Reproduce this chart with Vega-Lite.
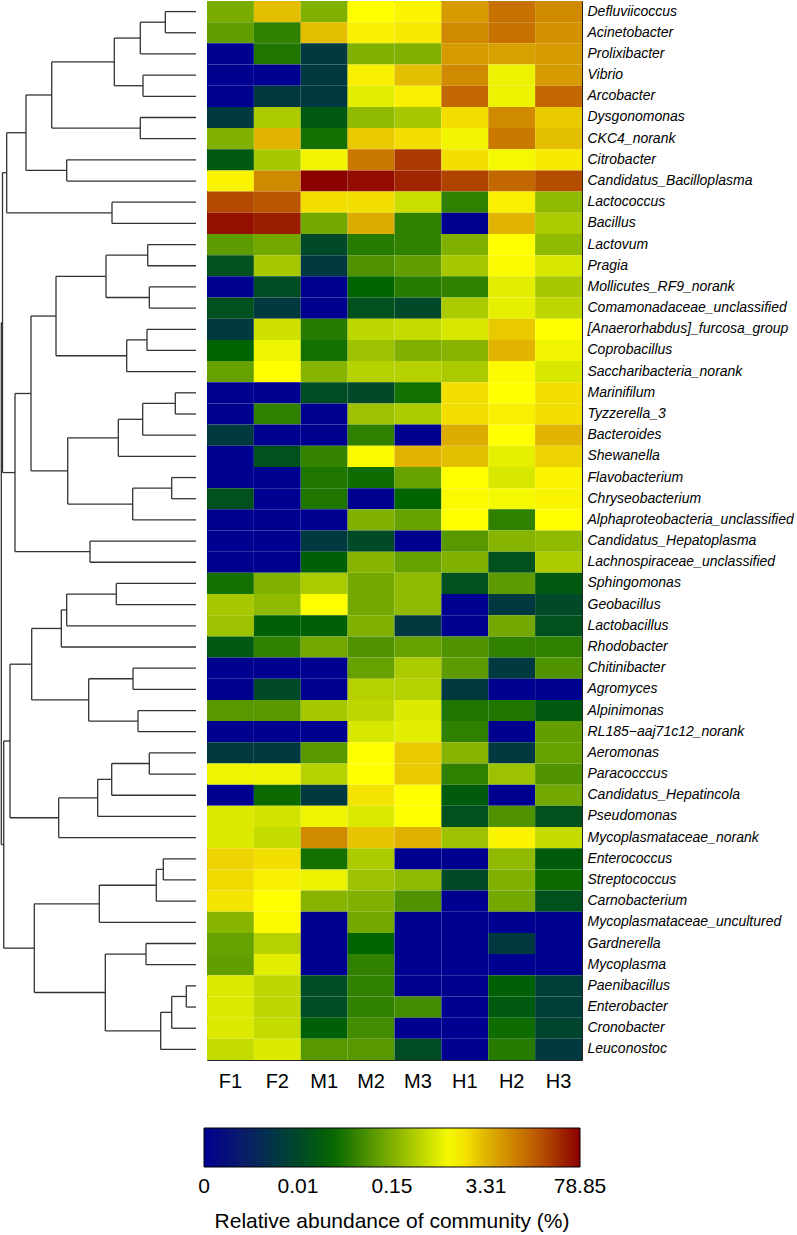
{
"$schema": "https://vega.github.io/schema/vega-lite/v6.json",
"padding": 0,
"background": "white",
"spacing": 9,
"config": {"view": {"stroke": null}, "font": "Liberation Sans"},
"hconcat": [
{
"width": 195, "height": 1059,
"data": {"values": [
{"node":"A","h":30.7,"h1":0,"y1":1,"h2":0,"y2":2},
{"node":"B","h":55.7,"h1":30.7,"y1":1.5,"h2":0,"y2":3},
{"node":"C","h":53,"h1":0,"y1":4,"h2":0,"y2":5},
{"node":"D","h":81.7,"h1":55.7,"y1":2.25,"h2":53,"y2":4.5},
{"node":"E","h":55.7,"h1":0,"y1":6,"h2":0,"y2":7},
{"node":"F","h":144.3,"h1":81.7,"y1":3.375,"h2":55.7,"y2":6.5},
{"node":"G","h":129.3,"h1":0,"y1":8,"h2":0,"y2":9},
{"node":"H","h":170,"h1":144.3,"y1":4.9375,"h2":129.3,"y2":8.5},
{"node":"I","h":84,"h1":0,"y1":10,"h2":0,"y2":11},
{"node":"J","h":189.3,"h1":170,"y1":6.71875,"h2":84,"y2":10.5},
{"node":"K","h":48.3,"h1":0,"y1":12,"h2":0,"y2":13},
{"node":"L","h":46.7,"h1":0,"y1":14,"h2":0,"y2":15},
{"node":"M","h":90,"h1":48.3,"y1":12.5,"h2":46.7,"y2":14.5},
{"node":"N","h":49,"h1":0,"y1":16,"h2":0,"y2":17},
{"node":"O","h":69.3,"h1":49,"y1":16.5,"h2":0,"y2":18},
{"node":"P","h":140,"h1":90,"y1":13.5,"h2":69.3,"y2":17.25},
{"node":"Q","h":20.7,"h1":0,"y1":19,"h2":0,"y2":20},
{"node":"R","h":53.3,"h1":20.7,"y1":19.5,"h2":0,"y2":21},
{"node":"S","h":77.7,"h1":53.3,"y1":20.25,"h2":0,"y2":22},
{"node":"T","h":24.3,"h1":0,"y1":23,"h2":0,"y2":24},
{"node":"U","h":63.3,"h1":24.3,"y1":23.5,"h2":0,"y2":25},
{"node":"V","h":128.3,"h1":77.7,"y1":21.125,"h2":63.3,"y2":24.25},
{"node":"W","h":165,"h1":140,"y1":15.375,"h2":128.3,"y2":22.6875},
{"node":"Y","h":106,"h1":0,"y1":26,"h2":0,"y2":27},
{"node":"X","h":181,"h1":165,"y1":19.03125,"h2":106,"y2":26.5},
{"node":"Z","h":193.5,"h1":189.3,"y1":8.609375,"h2":181,"y2":22.765625},
{"node":"AA","h":79.7,"h1":0,"y1":28,"h2":0,"y2":29},
{"node":"AB","h":129.3,"h1":79.7,"y1":28.5,"h2":0,"y2":30},
{"node":"AC","h":134.7,"h1":129.3,"y1":29.25,"h2":0,"y2":31},
{"node":"AD","h":63,"h1":0,"y1":32,"h2":0,"y2":33},
{"node":"AE","h":58,"h1":0,"y1":34,"h2":0,"y2":35},
{"node":"AF","h":107.3,"h1":63,"y1":32.5,"h2":58,"y2":34.5},
{"node":"AG","h":164.3,"h1":134.7,"y1":30.125,"h2":107.3,"y2":33.5},
{"node":"AH","h":46.7,"h1":0,"y1":36,"h2":0,"y2":37},
{"node":"AI","h":84.3,"h1":46.7,"y1":36.5,"h2":0,"y2":38},
{"node":"AJ","h":98.3,"h1":84.3,"y1":37.25,"h2":0,"y2":39},
{"node":"AK","h":137.3,"h1":98.3,"y1":38.125,"h2":0,"y2":40},
{"node":"AL","h":186,"h1":164.3,"y1":31.8125,"h2":137.3,"y2":39.0625},
{"node":"AM","h":32.7,"h1":0,"y1":41,"h2":0,"y2":42},
{"node":"AN","h":39.7,"h1":32.7,"y1":41.5,"h2":0,"y2":43},
{"node":"AO","h":96.7,"h1":39.7,"y1":42.25,"h2":0,"y2":44},
{"node":"AP","h":50,"h1":0,"y1":45,"h2":0,"y2":46},
{"node":"AQ","h":9.7,"h1":0,"y1":47,"h2":0,"y2":48},
{"node":"AR","h":24.3,"h1":9.7,"y1":47.5,"h2":0,"y2":49},
{"node":"AS","h":35.3,"h1":24.3,"y1":48.25,"h2":0,"y2":50},
{"node":"AT","h":90.7,"h1":50,"y1":45.5,"h2":35.3,"y2":49.125},
{"node":"AU","h":161.7,"h1":96.7,"y1":43.125,"h2":90.7,"y2":47.3125},
{"node":"BB","h":192.3,"h1":186,"y1":35.4375,"h2":161.7,"y2":45.21875},
{"node":"ROOT","h":194.7,"h1":193.5,"y1":15.6875,"h2":192.3,"y2":40.328125}
]},
"layer": [
{"mark": {"type": "rule", "color": "#333333", "strokeWidth": 1.3},
 "encoding": {
  "x": {"field": "h", "type": "quantitative", "scale": {"domain": [0, 195], "reverse": true, "nice": false, "zero": false}, "axis": null},
  "y": {"field": "y1", "type": "quantitative", "scale": {"domain": [0.5, 50.5], "reverse": true, "nice": false, "zero": false}, "axis": null},
  "y2": {"field": "y2"}}},
{"mark": {"type": "rule", "color": "#333333", "strokeWidth": 1.3},
 "encoding": {
  "x": {"field": "h1", "type": "quantitative", "axis": null},
  "x2": {"field": "h"},
  "y": {"field": "y1", "type": "quantitative", "axis": null}}},
{"mark": {"type": "rule", "color": "#333333", "strokeWidth": 1.3},
 "encoding": {
  "x": {"field": "h2", "type": "quantitative", "axis": null},
  "x2": {"field": "h"},
  "y": {"field": "y2", "type": "quantitative", "axis": null}}}
]
},
{
"width": 375, "height": 1059,
"view": {"stroke": "#222222", "strokeWidth": 1},
"data": {"values": [
{"taxon":"Defluviicoccus","sample":"F1","value":1.97},{"taxon":"Defluviicoccus","sample":"F2","value":2.95},{"taxon":"Defluviicoccus","sample":"M1","value":2.0},{"taxon":"Defluviicoccus","sample":"M2","value":2.65},{"taxon":"Defluviicoccus","sample":"M3","value":2.7},{"taxon":"Defluviicoccus","sample":"H1","value":3.15},{"taxon":"Defluviicoccus","sample":"H2","value":3.4},{"taxon":"Defluviicoccus","sample":"H3","value":3.25},
{"taxon":"Acinetobacter","sample":"F1","value":1.85},{"taxon":"Acinetobacter","sample":"F2","value":1.6},{"taxon":"Acinetobacter","sample":"M1","value":2.95},{"taxon":"Acinetobacter","sample":"M2","value":2.72},{"taxon":"Acinetobacter","sample":"M3","value":2.75},{"taxon":"Acinetobacter","sample":"H1","value":3.25},{"taxon":"Acinetobacter","sample":"H2","value":3.4},{"taxon":"Acinetobacter","sample":"H3","value":3.2},
{"taxon":"Prolixibacter","sample":"F1","value":0},{"taxon":"Prolixibacter","sample":"F2","value":1.5},{"taxon":"Prolixibacter","sample":"M1","value":0.8},{"taxon":"Prolixibacter","sample":"M2","value":2.0},{"taxon":"Prolixibacter","sample":"M3","value":2.0},{"taxon":"Prolixibacter","sample":"H1","value":3.15},{"taxon":"Prolixibacter","sample":"H2","value":3.12},{"taxon":"Prolixibacter","sample":"H3","value":3.15},
{"taxon":"Vibrio","sample":"F1","value":0},{"taxon":"Vibrio","sample":"F2","value":0},{"taxon":"Vibrio","sample":"M1","value":0.8},{"taxon":"Vibrio","sample":"M2","value":2.72},{"taxon":"Vibrio","sample":"M3","value":2.95},{"taxon":"Vibrio","sample":"H1","value":3.25},{"taxon":"Vibrio","sample":"H2","value":2.55},{"taxon":"Vibrio","sample":"H3","value":3.15},
{"taxon":"Arcobacter","sample":"F1","value":0},{"taxon":"Arcobacter","sample":"F2","value":0.8},{"taxon":"Arcobacter","sample":"M1","value":0.8},{"taxon":"Arcobacter","sample":"M2","value":2.5},{"taxon":"Arcobacter","sample":"M3","value":2.72},{"taxon":"Arcobacter","sample":"H1","value":3.45},{"taxon":"Arcobacter","sample":"H2","value":2.55},{"taxon":"Arcobacter","sample":"H3","value":3.45},
{"taxon":"Dysgonomonas","sample":"F1","value":0.8},{"taxon":"Dysgonomonas","sample":"F2","value":2.22},{"taxon":"Dysgonomonas","sample":"M1","value":1.2},{"taxon":"Dysgonomonas","sample":"M2","value":2.08},{"taxon":"Dysgonomonas","sample":"M3","value":2.2},{"taxon":"Dysgonomonas","sample":"H1","value":2.8},{"taxon":"Dysgonomonas","sample":"H2","value":3.25},{"taxon":"Dysgonomonas","sample":"H3","value":2.9},
{"taxon":"CKC4_norank","sample":"F1","value":2.0},{"taxon":"CKC4_norank","sample":"F2","value":3.0},{"taxon":"CKC4_norank","sample":"M1","value":1.45},{"taxon":"CKC4_norank","sample":"M2","value":2.9},{"taxon":"CKC4_norank","sample":"M3","value":2.8},{"taxon":"CKC4_norank","sample":"H1","value":2.58},{"taxon":"CKC4_norank","sample":"H2","value":3.35},{"taxon":"CKC4_norank","sample":"H3","value":2.95},
{"taxon":"Citrobacter","sample":"F1","value":1.2},{"taxon":"Citrobacter","sample":"F2","value":2.2},{"taxon":"Citrobacter","sample":"M1","value":2.58},{"taxon":"Citrobacter","sample":"M2","value":3.35},{"taxon":"Citrobacter","sample":"M3","value":3.7},{"taxon":"Citrobacter","sample":"H1","value":2.8},{"taxon":"Citrobacter","sample":"H2","value":2.6},{"taxon":"Citrobacter","sample":"H3","value":2.75},
{"taxon":"Candidatus_Bacilloplasma","sample":"F1","value":2.7},{"taxon":"Candidatus_Bacilloplasma","sample":"F2","value":3.25},{"taxon":"Candidatus_Bacilloplasma","sample":"M1","value":4.0},{"taxon":"Candidatus_Bacilloplasma","sample":"M2","value":3.93},{"taxon":"Candidatus_Bacilloplasma","sample":"M3","value":3.8},{"taxon":"Candidatus_Bacilloplasma","sample":"H1","value":3.65},{"taxon":"Candidatus_Bacilloplasma","sample":"H2","value":3.45},{"taxon":"Candidatus_Bacilloplasma","sample":"H3","value":3.6},
{"taxon":"Lactococcus","sample":"F1","value":3.62},{"taxon":"Lactococcus","sample":"F2","value":3.55},{"taxon":"Lactococcus","sample":"M1","value":2.8},{"taxon":"Lactococcus","sample":"M2","value":2.8},{"taxon":"Lactococcus","sample":"M3","value":2.38},{"taxon":"Lactococcus","sample":"H1","value":1.6},{"taxon":"Lactococcus","sample":"H2","value":2.72},{"taxon":"Lactococcus","sample":"H3","value":2.08},
{"taxon":"Bacillus","sample":"F1","value":3.92},{"taxon":"Bacillus","sample":"F2","value":3.85},{"taxon":"Bacillus","sample":"M1","value":1.93},{"taxon":"Bacillus","sample":"M2","value":3.05},{"taxon":"Bacillus","sample":"M3","value":1.6},{"taxon":"Bacillus","sample":"H1","value":0},{"taxon":"Bacillus","sample":"H2","value":3.0},{"taxon":"Bacillus","sample":"H3","value":2.22},
{"taxon":"Lactovum","sample":"F1","value":1.82},{"taxon":"Lactovum","sample":"F2","value":1.93},{"taxon":"Lactovum","sample":"M1","value":1.0},{"taxon":"Lactovum","sample":"M2","value":1.55},{"taxon":"Lactovum","sample":"M3","value":1.6},{"taxon":"Lactovum","sample":"H1","value":2.0},{"taxon":"Lactovum","sample":"H2","value":2.65},{"taxon":"Lactovum","sample":"H3","value":2.08},
{"taxon":"Pragia","sample":"F1","value":1.1},{"taxon":"Pragia","sample":"F2","value":2.2},{"taxon":"Pragia","sample":"M1","value":0.8},{"taxon":"Pragia","sample":"M2","value":1.75},{"taxon":"Pragia","sample":"M3","value":1.85},{"taxon":"Pragia","sample":"H1","value":2.2},{"taxon":"Pragia","sample":"H2","value":2.68},{"taxon":"Pragia","sample":"H3","value":2.45},
{"taxon":"Mollicutes_RF9_norank","sample":"F1","value":0},{"taxon":"Mollicutes_RF9_norank","sample":"F2","value":1.05},{"taxon":"Mollicutes_RF9_norank","sample":"M1","value":0},{"taxon":"Mollicutes_RF9_norank","sample":"M2","value":1.35},{"taxon":"Mollicutes_RF9_norank","sample":"M3","value":1.55},{"taxon":"Mollicutes_RF9_norank","sample":"H1","value":1.6},{"taxon":"Mollicutes_RF9_norank","sample":"H2","value":2.5},{"taxon":"Mollicutes_RF9_norank","sample":"H3","value":2.2},
{"taxon":"Comamonadaceae_unclassified","sample":"F1","value":1.1},{"taxon":"Comamonadaceae_unclassified","sample":"F2","value":0.8},{"taxon":"Comamonadaceae_unclassified","sample":"M1","value":0},{"taxon":"Comamonadaceae_unclassified","sample":"M2","value":1.1},{"taxon":"Comamonadaceae_unclassified","sample":"M3","value":1.0},{"taxon":"Comamonadaceae_unclassified","sample":"H1","value":2.22},{"taxon":"Comamonadaceae_unclassified","sample":"H2","value":2.52},{"taxon":"Comamonadaceae_unclassified","sample":"H3","value":2.32},
{"taxon":"[Anaerorhabdus]_furcosa_group","sample":"F1","value":0.8},{"taxon":"[Anaerorhabdus]_furcosa_group","sample":"F2","value":2.4},{"taxon":"[Anaerorhabdus]_furcosa_group","sample":"M1","value":1.55},{"taxon":"[Anaerorhabdus]_furcosa_group","sample":"M2","value":2.32},{"taxon":"[Anaerorhabdus]_furcosa_group","sample":"M3","value":2.35},{"taxon":"[Anaerorhabdus]_furcosa_group","sample":"H1","value":2.45},{"taxon":"[Anaerorhabdus]_furcosa_group","sample":"H2","value":2.9},{"taxon":"[Anaerorhabdus]_furcosa_group","sample":"H3","value":2.65},
{"taxon":"Coprobacillus","sample":"F1","value":1.35},{"taxon":"Coprobacillus","sample":"F2","value":2.57},{"taxon":"Coprobacillus","sample":"M1","value":1.45},{"taxon":"Coprobacillus","sample":"M2","value":2.15},{"taxon":"Coprobacillus","sample":"M3","value":2.0},{"taxon":"Coprobacillus","sample":"H1","value":2.03},{"taxon":"Coprobacillus","sample":"H2","value":3.0},{"taxon":"Coprobacillus","sample":"H3","value":2.58},
{"taxon":"Saccharibacteria_norank","sample":"F1","value":1.87},{"taxon":"Saccharibacteria_norank","sample":"F2","value":2.65},{"taxon":"Saccharibacteria_norank","sample":"M1","value":2.03},{"taxon":"Saccharibacteria_norank","sample":"M2","value":2.27},{"taxon":"Saccharibacteria_norank","sample":"M3","value":2.27},{"taxon":"Saccharibacteria_norank","sample":"H1","value":2.22},{"taxon":"Saccharibacteria_norank","sample":"H2","value":2.68},{"taxon":"Saccharibacteria_norank","sample":"H3","value":2.45},
{"taxon":"Marinifilum","sample":"F1","value":0},{"taxon":"Marinifilum","sample":"F2","value":0},{"taxon":"Marinifilum","sample":"M1","value":1.05},{"taxon":"Marinifilum","sample":"M2","value":1.0},{"taxon":"Marinifilum","sample":"M3","value":1.45},{"taxon":"Marinifilum","sample":"H1","value":2.8},{"taxon":"Marinifilum","sample":"H2","value":2.65},{"taxon":"Marinifilum","sample":"H3","value":2.8},
{"taxon":"Tyzzerella_3","sample":"F1","value":0},{"taxon":"Tyzzerella_3","sample":"F2","value":1.6},{"taxon":"Tyzzerella_3","sample":"M1","value":0},{"taxon":"Tyzzerella_3","sample":"M2","value":2.15},{"taxon":"Tyzzerella_3","sample":"M3","value":2.22},{"taxon":"Tyzzerella_3","sample":"H1","value":2.8},{"taxon":"Tyzzerella_3","sample":"H2","value":2.72},{"taxon":"Tyzzerella_3","sample":"H3","value":2.8},
{"taxon":"Bacteroides","sample":"F1","value":0.8},{"taxon":"Bacteroides","sample":"F2","value":0},{"taxon":"Bacteroides","sample":"M1","value":0},{"taxon":"Bacteroides","sample":"M2","value":1.6},{"taxon":"Bacteroides","sample":"M3","value":0},{"taxon":"Bacteroides","sample":"H1","value":3.05},{"taxon":"Bacteroides","sample":"H2","value":2.65},{"taxon":"Bacteroides","sample":"H3","value":3.0},
{"taxon":"Shewanella","sample":"F1","value":0},{"taxon":"Shewanella","sample":"F2","value":1.1},{"taxon":"Shewanella","sample":"M1","value":1.62},{"taxon":"Shewanella","sample":"M2","value":2.68},{"taxon":"Shewanella","sample":"M3","value":3.0},{"taxon":"Shewanella","sample":"H1","value":2.95},{"taxon":"Shewanella","sample":"H2","value":2.52},{"taxon":"Shewanella","sample":"H3","value":2.85},
{"taxon":"Flavobacterium","sample":"F1","value":0},{"taxon":"Flavobacterium","sample":"F2","value":0},{"taxon":"Flavobacterium","sample":"M1","value":1.5},{"taxon":"Flavobacterium","sample":"M2","value":1.42},{"taxon":"Flavobacterium","sample":"M3","value":1.87},{"taxon":"Flavobacterium","sample":"H1","value":2.65},{"taxon":"Flavobacterium","sample":"H2","value":2.45},{"taxon":"Flavobacterium","sample":"H3","value":2.7},
{"taxon":"Chryseobacterium","sample":"F1","value":1.1},{"taxon":"Chryseobacterium","sample":"F2","value":0},{"taxon":"Chryseobacterium","sample":"M1","value":1.5},{"taxon":"Chryseobacterium","sample":"M2","value":0},{"taxon":"Chryseobacterium","sample":"M3","value":1.35},{"taxon":"Chryseobacterium","sample":"H1","value":2.68},{"taxon":"Chryseobacterium","sample":"H2","value":2.6},{"taxon":"Chryseobacterium","sample":"H3","value":2.7},
{"taxon":"Alphaproteobacteria_unclassified","sample":"F1","value":0},{"taxon":"Alphaproteobacteria_unclassified","sample":"F2","value":0},{"taxon":"Alphaproteobacteria_unclassified","sample":"M1","value":0},{"taxon":"Alphaproteobacteria_unclassified","sample":"M2","value":2.0},{"taxon":"Alphaproteobacteria_unclassified","sample":"M3","value":1.87},{"taxon":"Alphaproteobacteria_unclassified","sample":"H1","value":2.65},{"taxon":"Alphaproteobacteria_unclassified","sample":"H2","value":1.6},{"taxon":"Alphaproteobacteria_unclassified","sample":"H3","value":2.65},
{"taxon":"Candidatus_Hepatoplasma","sample":"F1","value":0},{"taxon":"Candidatus_Hepatoplasma","sample":"F2","value":0},{"taxon":"Candidatus_Hepatoplasma","sample":"M1","value":0.8},{"taxon":"Candidatus_Hepatoplasma","sample":"M2","value":1.0},{"taxon":"Candidatus_Hepatoplasma","sample":"M3","value":0},{"taxon":"Candidatus_Hepatoplasma","sample":"H1","value":1.8},{"taxon":"Candidatus_Hepatoplasma","sample":"H2","value":2.03},{"taxon":"Candidatus_Hepatoplasma","sample":"H3","value":2.08},
{"taxon":"Lachnospiraceae_unclassified","sample":"F1","value":0},{"taxon":"Lachnospiraceae_unclassified","sample":"F2","value":0},{"taxon":"Lachnospiraceae_unclassified","sample":"M1","value":1.3},{"taxon":"Lachnospiraceae_unclassified","sample":"M2","value":2.03},{"taxon":"Lachnospiraceae_unclassified","sample":"M3","value":1.87},{"taxon":"Lachnospiraceae_unclassified","sample":"H1","value":2.0},{"taxon":"Lachnospiraceae_unclassified","sample":"H2","value":1.1},{"taxon":"Lachnospiraceae_unclassified","sample":"H3","value":2.22},
{"taxon":"Sphingomonas","sample":"F1","value":1.45},{"taxon":"Sphingomonas","sample":"F2","value":2.0},{"taxon":"Sphingomonas","sample":"M1","value":2.22},{"taxon":"Sphingomonas","sample":"M2","value":1.93},{"taxon":"Sphingomonas","sample":"M3","value":2.08},{"taxon":"Sphingomonas","sample":"H1","value":1.1},{"taxon":"Sphingomonas","sample":"H2","value":1.82},{"taxon":"Sphingomonas","sample":"H3","value":1.2},
{"taxon":"Geobacillus","sample":"F1","value":2.2},{"taxon":"Geobacillus","sample":"F2","value":2.08},{"taxon":"Geobacillus","sample":"M1","value":2.65},{"taxon":"Geobacillus","sample":"M2","value":1.93},{"taxon":"Geobacillus","sample":"M3","value":2.08},{"taxon":"Geobacillus","sample":"H1","value":0},{"taxon":"Geobacillus","sample":"H2","value":0.8},{"taxon":"Geobacillus","sample":"H3","value":1.0},
{"taxon":"Lactobacillus","sample":"F1","value":2.15},{"taxon":"Lactobacillus","sample":"F2","value":1.3},{"taxon":"Lactobacillus","sample":"M1","value":1.3},{"taxon":"Lactobacillus","sample":"M2","value":2.0},{"taxon":"Lactobacillus","sample":"M3","value":0.8},{"taxon":"Lactobacillus","sample":"H1","value":0},{"taxon":"Lactobacillus","sample":"H2","value":1.93},{"taxon":"Lactobacillus","sample":"H3","value":1.1},
{"taxon":"Rhodobacter","sample":"F1","value":1.2},{"taxon":"Rhodobacter","sample":"F2","value":1.6},{"taxon":"Rhodobacter","sample":"M1","value":1.93},{"taxon":"Rhodobacter","sample":"M2","value":1.75},{"taxon":"Rhodobacter","sample":"M3","value":1.87},{"taxon":"Rhodobacter","sample":"H1","value":1.75},{"taxon":"Rhodobacter","sample":"H2","value":1.6},{"taxon":"Rhodobacter","sample":"H3","value":1.6},
{"taxon":"Chitinibacter","sample":"F1","value":0},{"taxon":"Chitinibacter","sample":"F2","value":0},{"taxon":"Chitinibacter","sample":"M1","value":0},{"taxon":"Chitinibacter","sample":"M2","value":1.87},{"taxon":"Chitinibacter","sample":"M3","value":2.22},{"taxon":"Chitinibacter","sample":"H1","value":1.82},{"taxon":"Chitinibacter","sample":"H2","value":0.8},{"taxon":"Chitinibacter","sample":"H3","value":1.75},
{"taxon":"Agromyces","sample":"F1","value":0},{"taxon":"Agromyces","sample":"F2","value":1.0},{"taxon":"Agromyces","sample":"M1","value":0},{"taxon":"Agromyces","sample":"M2","value":2.27},{"taxon":"Agromyces","sample":"M3","value":2.27},{"taxon":"Agromyces","sample":"H1","value":0.8},{"taxon":"Agromyces","sample":"H2","value":0},{"taxon":"Agromyces","sample":"H3","value":0},
{"taxon":"Alpinimonas","sample":"F1","value":1.8},{"taxon":"Alpinimonas","sample":"F2","value":1.8},{"taxon":"Alpinimonas","sample":"M1","value":2.2},{"taxon":"Alpinimonas","sample":"M2","value":2.32},{"taxon":"Alpinimonas","sample":"M3","value":2.47},{"taxon":"Alpinimonas","sample":"H1","value":1.5},{"taxon":"Alpinimonas","sample":"H2","value":1.5},{"taxon":"Alpinimonas","sample":"H3","value":1.2},
{"taxon":"RL185−aaj71c12_norank","sample":"F1","value":0},{"taxon":"RL185−aaj71c12_norank","sample":"F2","value":0},{"taxon":"RL185−aaj71c12_norank","sample":"M1","value":0},{"taxon":"RL185−aaj71c12_norank","sample":"M2","value":2.45},{"taxon":"RL185−aaj71c12_norank","sample":"M3","value":2.5},{"taxon":"RL185−aaj71c12_norank","sample":"H1","value":1.6},{"taxon":"RL185−aaj71c12_norank","sample":"H2","value":0},{"taxon":"RL185−aaj71c12_norank","sample":"H3","value":1.85},
{"taxon":"Aeromonas","sample":"F1","value":0.8},{"taxon":"Aeromonas","sample":"F2","value":0.8},{"taxon":"Aeromonas","sample":"M1","value":1.8},{"taxon":"Aeromonas","sample":"M2","value":2.65},{"taxon":"Aeromonas","sample":"M3","value":2.9},{"taxon":"Aeromonas","sample":"H1","value":2.03},{"taxon":"Aeromonas","sample":"H2","value":0.8},{"taxon":"Aeromonas","sample":"H3","value":1.87},
{"taxon":"Paracocccus","sample":"F1","value":2.57},{"taxon":"Paracocccus","sample":"F2","value":2.57},{"taxon":"Paracocccus","sample":"M1","value":2.27},{"taxon":"Paracocccus","sample":"M2","value":2.65},{"taxon":"Paracocccus","sample":"M3","value":2.9},{"taxon":"Paracocccus","sample":"H1","value":1.6},{"taxon":"Paracocccus","sample":"H2","value":2.15},{"taxon":"Paracocccus","sample":"H3","value":1.75},
{"taxon":"Candidatus_Hepatincola","sample":"F1","value":0},{"taxon":"Candidatus_Hepatincola","sample":"F2","value":1.4},{"taxon":"Candidatus_Hepatincola","sample":"M1","value":0.8},{"taxon":"Candidatus_Hepatincola","sample":"M2","value":2.78},{"taxon":"Candidatus_Hepatincola","sample":"M3","value":2.65},{"taxon":"Candidatus_Hepatincola","sample":"H1","value":1.25},{"taxon":"Candidatus_Hepatincola","sample":"H2","value":0},{"taxon":"Candidatus_Hepatincola","sample":"H3","value":1.93},
{"taxon":"Pseudomonas","sample":"F1","value":2.47},{"taxon":"Pseudomonas","sample":"F2","value":2.42},{"taxon":"Pseudomonas","sample":"M1","value":2.57},{"taxon":"Pseudomonas","sample":"M2","value":2.47},{"taxon":"Pseudomonas","sample":"M3","value":2.65},{"taxon":"Pseudomonas","sample":"H1","value":1.1},{"taxon":"Pseudomonas","sample":"H2","value":1.75},{"taxon":"Pseudomonas","sample":"H3","value":1.1},
{"taxon":"Mycoplasmataceae_norank","sample":"F1","value":2.47},{"taxon":"Mycoplasmataceae_norank","sample":"F2","value":2.35},{"taxon":"Mycoplasmataceae_norank","sample":"M1","value":3.25},{"taxon":"Mycoplasmataceae_norank","sample":"M2","value":2.92},{"taxon":"Mycoplasmataceae_norank","sample":"M3","value":3.02},{"taxon":"Mycoplasmataceae_norank","sample":"H1","value":2.15},{"taxon":"Mycoplasmataceae_norank","sample":"H2","value":2.7},{"taxon":"Mycoplasmataceae_norank","sample":"H3","value":2.35},
{"taxon":"Enterococcus","sample":"F1","value":2.85},{"taxon":"Enterococcus","sample":"F2","value":2.8},{"taxon":"Enterococcus","sample":"M1","value":1.45},{"taxon":"Enterococcus","sample":"M2","value":2.22},{"taxon":"Enterococcus","sample":"M3","value":0},{"taxon":"Enterococcus","sample":"H1","value":0},{"taxon":"Enterococcus","sample":"H2","value":2.08},{"taxon":"Enterococcus","sample":"H3","value":1.25},
{"taxon":"Streptococcus","sample":"F1","value":2.82},{"taxon":"Streptococcus","sample":"F2","value":2.72},{"taxon":"Streptococcus","sample":"M1","value":2.55},{"taxon":"Streptococcus","sample":"M2","value":2.15},{"taxon":"Streptococcus","sample":"M3","value":2.08},{"taxon":"Streptococcus","sample":"H1","value":1.0},{"taxon":"Streptococcus","sample":"H2","value":2.0},{"taxon":"Streptococcus","sample":"H3","value":1.4},
{"taxon":"Carnobacterium","sample":"F1","value":2.77},{"taxon":"Carnobacterium","sample":"F2","value":2.65},{"taxon":"Carnobacterium","sample":"M1","value":2.03},{"taxon":"Carnobacterium","sample":"M2","value":2.0},{"taxon":"Carnobacterium","sample":"M3","value":1.75},{"taxon":"Carnobacterium","sample":"H1","value":0},{"taxon":"Carnobacterium","sample":"H2","value":1.93},{"taxon":"Carnobacterium","sample":"H3","value":1.1},
{"taxon":"Mycoplasmataceae_uncultured","sample":"F1","value":2.03},{"taxon":"Mycoplasmataceae_uncultured","sample":"F2","value":2.68},{"taxon":"Mycoplasmataceae_uncultured","sample":"M1","value":0},{"taxon":"Mycoplasmataceae_uncultured","sample":"M2","value":1.93},{"taxon":"Mycoplasmataceae_uncultured","sample":"M3","value":0},{"taxon":"Mycoplasmataceae_uncultured","sample":"H1","value":0},{"taxon":"Mycoplasmataceae_uncultured","sample":"H2","value":0},{"taxon":"Mycoplasmataceae_uncultured","sample":"H3","value":0},
{"taxon":"Gardnerella","sample":"F1","value":1.87},{"taxon":"Gardnerella","sample":"F2","value":2.27},{"taxon":"Gardnerella","sample":"M1","value":0},{"taxon":"Gardnerella","sample":"M2","value":1.35},{"taxon":"Gardnerella","sample":"M3","value":0},{"taxon":"Gardnerella","sample":"H1","value":0},{"taxon":"Gardnerella","sample":"H2","value":0.8},{"taxon":"Gardnerella","sample":"H3","value":0},
{"taxon":"Mycoplasma","sample":"F1","value":1.85},{"taxon":"Mycoplasma","sample":"F2","value":2.5},{"taxon":"Mycoplasma","sample":"M1","value":0},{"taxon":"Mycoplasma","sample":"M2","value":1.6},{"taxon":"Mycoplasma","sample":"M3","value":0},{"taxon":"Mycoplasma","sample":"H1","value":0},{"taxon":"Mycoplasma","sample":"H2","value":0},{"taxon":"Mycoplasma","sample":"H3","value":0},
{"taxon":"Paenibacillus","sample":"F1","value":2.47},{"taxon":"Paenibacillus","sample":"F2","value":2.32},{"taxon":"Paenibacillus","sample":"M1","value":1.05},{"taxon":"Paenibacillus","sample":"M2","value":1.6},{"taxon":"Paenibacillus","sample":"M3","value":0},{"taxon":"Paenibacillus","sample":"H1","value":0},{"taxon":"Paenibacillus","sample":"H2","value":1.3},{"taxon":"Paenibacillus","sample":"H3","value":0.85},
{"taxon":"Enterobacter","sample":"F1","value":2.47},{"taxon":"Enterobacter","sample":"F2","value":2.32},{"taxon":"Enterobacter","sample":"M1","value":1.05},{"taxon":"Enterobacter","sample":"M2","value":1.6},{"taxon":"Enterobacter","sample":"M3","value":1.7},{"taxon":"Enterobacter","sample":"H1","value":0},{"taxon":"Enterobacter","sample":"H2","value":1.22},{"taxon":"Enterobacter","sample":"H3","value":0.85},
{"taxon":"Cronobacter","sample":"F1","value":2.47},{"taxon":"Cronobacter","sample":"F2","value":2.35},{"taxon":"Cronobacter","sample":"M1","value":1.3},{"taxon":"Cronobacter","sample":"M2","value":1.7},{"taxon":"Cronobacter","sample":"M3","value":0},{"taxon":"Cronobacter","sample":"H1","value":0},{"taxon":"Cronobacter","sample":"H2","value":1.42},{"taxon":"Cronobacter","sample":"H3","value":0.95},
{"taxon":"Leuconostoc","sample":"F1","value":2.35},{"taxon":"Leuconostoc","sample":"F2","value":2.47},{"taxon":"Leuconostoc","sample":"M1","value":1.8},{"taxon":"Leuconostoc","sample":"M2","value":1.8},{"taxon":"Leuconostoc","sample":"M3","value":1.05},{"taxon":"Leuconostoc","sample":"H1","value":0},{"taxon":"Leuconostoc","sample":"H2","value":1.55},{"taxon":"Leuconostoc","sample":"H3","value":0.8}
]},
"mark": {"type": "rect"},
"encoding": {
 "x": {"field": "sample", "type": "nominal", "sort": null, "scale": {"paddingInner": 0, "paddingOuter": 0},
  "axis": {"orient": "bottom", "title": null, "labelAngle": 0, "domain": false, "ticks": false, "labelFontSize": 20, "labelPadding": 11, "labelColor": "#000000"}},
 "y": {"field": "taxon", "type": "nominal", "sort": null, "scale": {"paddingInner": 0, "paddingOuter": 0},
  "axis": {"orient": "right", "title": null, "domain": false, "ticks": false, "labelFontSize": 14, "labelFontStyle": "italic", "labelPadding": 5, "labelLimit": 400, "labelColor": "#000000"}},
 "color": {"field": "value", "type": "quantitative",
  "scale": {"domain": [0, 0.45, 0.8, 1.35, 2, 2.65, 3, 3.5, 4], "range": ["#000090", "#0b1e66", "#003a40", "#006400", "#80b000", "#ffff00", "#e0b400", "#c06000", "#8b0000"], "interpolate": "rgb"},
  "legend": {"orient": "none", "legendX": 203, "legendY": 1127, "direction": "horizontal", "gradientLength": 376, "gradientThickness": 39,
   "gradientStrokeColor": "#000000", "gradientStrokeWidth": 1, "values": [0, 1, 2, 3, 4],
   "labelExpr": "['0','0.01','0.15','3.31','78.85'][datum.value]", "labelFontSize": 21, "labelAlign": "center", "labelOffset": 9, "labelOverlap": false, "labelColor": "#000000",
   "encode": {"labels": {"update": {"align": {"value": "center"}}}},
   "title": "Relative abundance of community (%)", "titleOrient": "bottom", "titleFontSize": 21, "titleFontWeight": "normal", "titleAnchor": "middle", "titlePadding": 14, "titleLimit": 700, "titleColor": "#000000"}}
}
}
]
}
